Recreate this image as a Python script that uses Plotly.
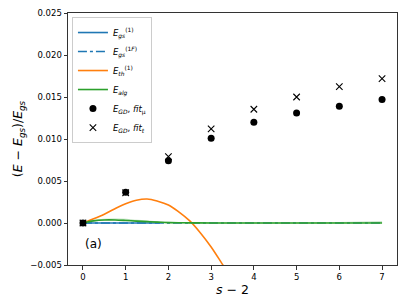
import plotly.graph_objects as go

# ---- data ----
s_pts = [0, 1, 2, 3, 4, 5, 6, 7]
gd_mu = [0.0, 0.00365, 0.00742, 0.0101, 0.0120, 0.0131, 0.0139, 0.0147]
gd_t = [0.0, 0.0036, 0.0079, 0.0112, 0.01354, 0.0150, 0.01623, 0.01718]

th_x = [0, 0.25, 0.5, 0.75, 1.0, 1.25, 1.5, 1.75, 2.0, 2.25, 2.5, 2.75, 3.0, 3.25, 3.5]
th_y = [0.0, 0.0005, 0.00105, 0.0017, 0.00228, 0.00271, 0.00286, 0.0026,
        0.00215, 0.0013, 0.00025, -0.00118, -0.00285, -0.0048, -0.0068]

gs_x = [0, 0.5, 1.0, 1.5, 1.8]
gs_y = [0.0, 0.0, 0.0, 0.0, 0.0]

gsf_x = [0, 1, 2, 3, 4, 5, 6, 7]
gsf_y = [0.0, 0.0, 0.0, 0.0, 0.0, 0.0, 0.0, 0.0]

alg_x = [0, 0.25, 0.5, 0.75, 1.0, 1.25, 1.5, 1.75, 2.0, 2.5, 3, 4, 5, 6, 7]
alg_y = [0.0, 0.00025, 0.00036, 0.00036, 0.0003, 0.00022, 0.00016, 0.0001,
         0.00005, 0.00002, 0.0, 0.0, 0.0, 0.0, 0.0]
alg_band_y = [0.0, 0.0003, 0.00042, 0.00045, 0.0004, 0.0003, 0.0002, 0.00012,
              0.00006, 0.00002, 0.0, 0.0, 0.0, 0.00003, 0.0001]

x_ticks = [0, 1, 2, 3, 4, 5, 6, 7]
y_ticks = [-0.005, 0.0, 0.005, 0.010, 0.015, 0.020, 0.025]

C0, C1, C2 = "#1f77b4", "#ff7f0e", "#2ca02c"
FONT = "DejaVu Sans"
LW = 1.6

fig = go.Figure()
fig.add_trace(go.Scatter(x=gs_x, y=gs_y, mode="lines", line=dict(color=C0, width=LW),
                         name="<i>E</i><sub><i>gs</i></sub><sup>(1)</sup>"))
fig.add_trace(go.Scatter(x=gsf_x, y=gsf_y, mode="lines",
                         line=dict(color=C0, width=LW, dash="dashdot"),
                         name="<i>E</i><sub><i>gs</i></sub><sup>(1<i>F</i>)</sup>"))
fig.add_trace(go.Scatter(x=th_x, y=th_y, mode="lines", line=dict(color=C1, width=LW, shape="spline"),
                         name="<i>E</i><sub><i>th</i></sub><sup>(1)</sup>"))
fig.add_trace(go.Scatter(x=alg_x, y=alg_band_y, mode="lines", opacity=0.3,
                         line=dict(color=C2, width=LW, shape="spline"), showlegend=False,
                         hoverinfo="skip"))
fig.add_trace(go.Scatter(x=alg_x, y=alg_y, mode="lines", line=dict(color=C2, width=LW, shape="spline"),
                         name="<i>E</i><sub><i>alg</i></sub>"))
fig.add_trace(go.Scatter(x=s_pts, y=gd_mu, mode="markers",
                         marker=dict(symbol="circle", size=7, color="black"),
                         name="<i>E</i><sub><i>GD</i></sub>, <i>fit</i><sub>μ</sub>"))
fig.add_trace(go.Scatter(x=s_pts, y=gd_t, mode="markers",
                         marker=dict(symbol="x-thin", size=6.5, color="black",
                                     line=dict(color="black", width=1.1)),
                         name="<i>E</i><sub><i>GD</i></sub>, <i>fit</i><sub><i>t</i></sub>"))

fig.add_annotation(x=0.24, y=-0.00246, text="(a)", showarrow=False,
                   font=dict(family=FONT, size=12, color="black"))

axis_common = dict(showline=True, linecolor="#333", linewidth=1, mirror=True,
                   ticks="outside", ticklen=3.5, tickwidth=1, tickcolor="#333",
                   showgrid=False, zeroline=False, automargin=False,
                   ticklabeloverflow="allow",
                   tickfont=dict(family=FONT, size=8.5, color="black"))

fig.update_xaxes(range=[-0.35, 7.35], tickvals=x_ticks, ticktext=[str(v) for v in x_ticks],
                 title=dict(text="<i>s</i> − 2", font=dict(family=FONT, size=12.5, color="black"),
                            standoff=4),
                 **axis_common)
fig.update_yaxes(range=[-0.005, 0.025], tickvals=y_ticks, tickformat=".3f",
                 title=dict(text="(<i>E</i> − <i>E</i><sub><i>gs</i></sub>)/<i>E</i><sub><i>gs</i></sub>",
                            font=dict(family=FONT, size=12.5, color="black"), standoff=4),
                 **axis_common)

# page body has an 8px default margin, so the figure is reduced accordingly
fig.update_layout(
    width=399, height=297,
    margin=dict(l=60, r=10, t=5, b=40),
    plot_bgcolor="white", paper_bgcolor="white",
    font=dict(family=FONT, color="black"),
    legend=dict(x=0.012, y=0.984, xanchor="left", yanchor="top",
                bgcolor="rgba(255,255,255,0.8)", bordercolor="#cccccc", borderwidth=1,
                font=dict(family=FONT, size=8.5, color="black"),
                itemwidth=30, tracegroupgap=0),
)

fig.write_html("out.html")
